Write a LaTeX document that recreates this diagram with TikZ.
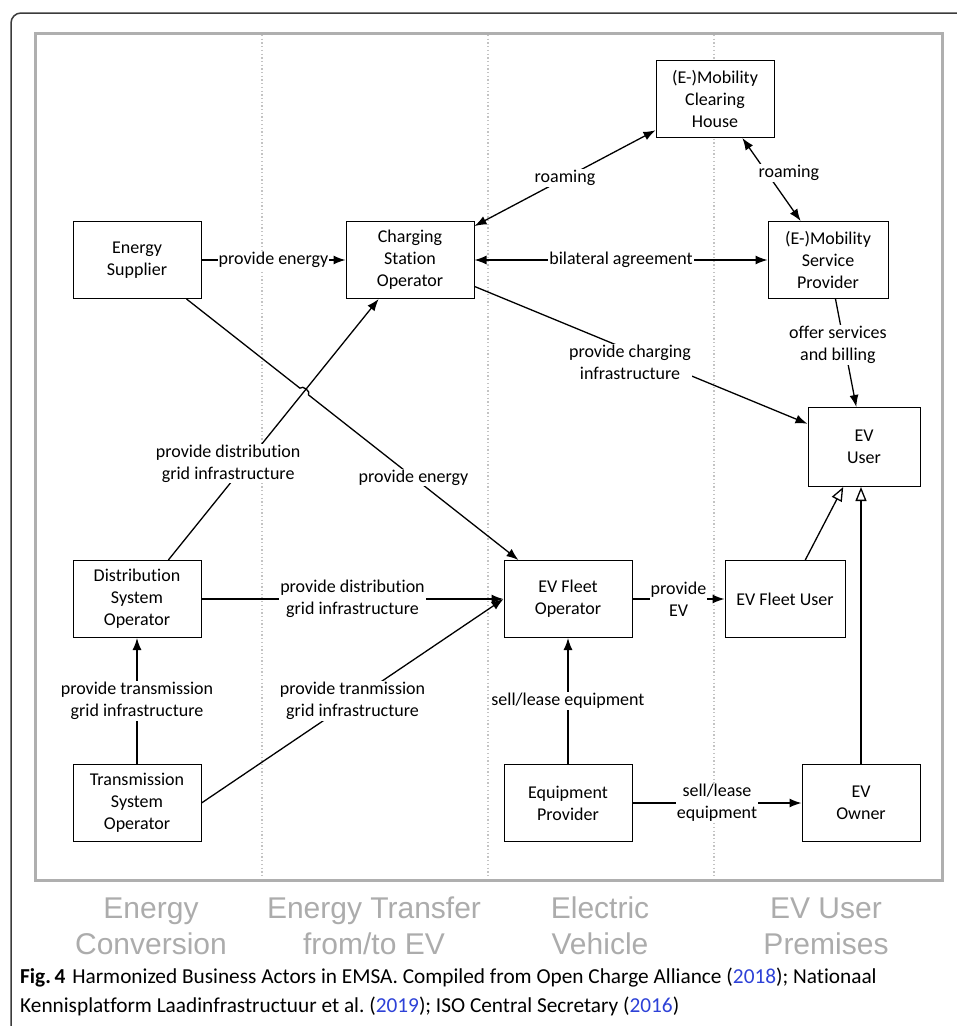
\documentclass[tikz,border=0pt]{standalone}
\usepackage{fontspec}
\usepackage{xcolor}
\setmainfont{Carlito}[Ligatures=NoCommon]
\newfontfamily\zonefont{Liberation Sans}
\usetikzlibrary{arrows.meta,positioning,calc}
\definecolor{framegray}{RGB}{175,175,175}
\definecolor{zonegray}{RGB}{172,172,172}
\definecolor{dotgray}{RGB}{195,195,195}
\definecolor{linkblue}{RGB}{45,65,215}
\definecolor{edgegray}{RGB}{60,60,60}

\begin{document}
\begin{tikzpicture}[
    x=1pt, y=-1pt,
    every node/.style={align=center},
    actor/.style={rectangle, draw=black, fill=white, line width=1pt, minimum width=128pt, minimum height=77pt, inner sep=0pt, font=\fontsize{18}{22}\selectfont},
    lbl/.style={fill=white, inner sep=1pt, font=\fontsize{18}{22}\selectfont},
    arrow/.style={line width=1.3pt, -{Latex[length=12pt,width=9pt]}},
    twoway/.style={line width=1.3pt, {Latex[length=12pt,width=9pt]}-{Latex[length=12pt,width=9pt]}},
    inherit/.style={line width=1.3pt, -{Triangle[open,length=14pt,width=11pt]}},
    zone/.style={font=\zonefont\fontsize{30}{36}\selectfont, text=zonegray},
    caption/.style={anchor=base west, inner sep=0pt, font=\fontsize{21.3}{24}\selectfont}
]
\useasboundingbox (0,0) rectangle (957,1026);

% Page frame and domain frame
\draw[edgegray, line width=1.5pt, rounded corners=10pt] (11,1026) -- (11,13) -- (957,13);
\draw[framegray, line width=3pt] (35,33) rectangle (942,880);
\foreach \x in {262,488,714}
    \draw[dotgray, line width=1.3pt, dash pattern=on 1.3pt off 2.4pt] (\x,35) -- (\x,878);

% Business actors
\node[actor] (supplier) at (137,260) {Energy\\Supplier};
\node[actor] (cso) at (410,260) {Charging\\Station\\Operator};
\node[actor, minimum width=118pt] (clearing) at (715,99) {(E-)Mobility\\Clearing\\House};
\node[actor, minimum width=120pt] (emsp) at (828,260) {(E-)Mobility\\Service\\Provider};
\node[actor, minimum width=112pt, minimum height=79pt] (evuser) at (864,447) {EV\\User};
\node[actor] (dso) at (137,599) {Distribution\\System\\Operator};
\node[actor] (fleetop) at (568,599) {EV Fleet\\Operator};
\node[actor, minimum width=120pt] (fleetuser) at (785,599) {EV Fleet User};
\node[actor] (tso) at (137,803) {Transmission\\System\\Operator};
\node[actor] (equip) at (568,803) {Equipment\\Provider};
\node[actor, minimum width=118pt] (owner) at (861,803) {EV\\Owner};

% Relations
\draw[arrow] (supplier) -- node[lbl] {provide energy} (cso);
\draw[twoway] (cso) -- node[lbl] {roaming} (clearing);
\draw[twoway] (cso) -- node[lbl] {bilateral agreement} (emsp);
\draw[twoway] (clearing) -- node[lbl, pos=0.42, xshift=22pt] {roaming} (emsp);
\draw[arrow] (cso) -- node[lbl, xshift=-11pt, yshift=-7pt] {provide charging\\infrastructure} (evuser);
\draw[arrow] (emsp) -- node[lbl, xshift=-8pt, yshift=8pt] {offer services\\and billing} (evuser);
\draw[arrow] (supplier) -- ($(supplier)!0.378!(fleetop)$) to[bend left=90] ($(supplier)!0.398!(fleetop)$) -- node[lbl] {provide energy} (fleetop);
\draw[arrow] (dso) -- node[lbl, pos=0.37, xshift=-18pt] {provide distribution\\grid infrastructure} (cso);
\draw[arrow] (dso) -- node[lbl] {provide distribution\\grid infrastructure} (fleetop);
\draw[arrow] (tso) -- node[lbl] {provide transmission\\grid infrastructure} (dso);
\draw[arrow] (tso.east) -- node[lbl] {provide tranmission\\grid infrastructure} (fleetop.west);
\draw[arrow] (fleetop) -- node[lbl] {provide\\EV} (fleetuser);
\draw[arrow] (equip) -- node[lbl] {sell/lease equipment} (fleetop);
\draw[arrow] (equip) -- node[lbl] {sell/lease\\equipment} (owner);
\draw[inherit] (fleetuser) -- (evuser);
\draw[inherit] (owner) -- (owner |- evuser.south);

% Domains
\node[zone] (conversion) at (151,926) {Energy\\Conversion};
\node[zone] (transfer) at (374,926) {Energy Transfer\\from/to EV};
\node[zone] (vehicle) at (600,926) {Electric\\Vehicle};
\node[zone] (premises) at (826,926) {EV User\\Premises};

% Caption
\node[caption] (caption1) at (20,983) {\textbf{Fig.\,4}\hspace{7pt}Harmonized Business Actors in EMSA. Compiled from Open Charge Alliance (\textcolor{linkblue}{2018}); Nationaal};
\node[caption] (caption2) at (20,1012) {Kennisplatform Laadinfrastructuur et al.\ (\textcolor{linkblue}{2019}); ISO Central Secretary (\textcolor{linkblue}{2016})};

\end{tikzpicture}
\end{document}
